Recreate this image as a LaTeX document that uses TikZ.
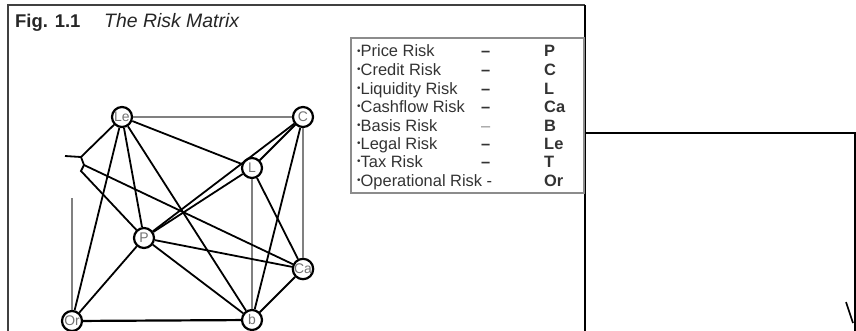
\documentclass[tikz,border=0pt]{standalone}
\usepackage{fontspec}
\setmainfont{Liberation Sans}
\begin{document}
\begin{tikzpicture}[x=1bp,y=-1bp]
\useasboundingbox (0,0) rectangle (856,330);
\tikzset{
 risk/.style={circle,draw=black,line width=2.2bp,minimum size=20bp,inner sep=0pt,fill=white,font=\fontsize{14}{14}\selectfont,text=black!55},
 link/.style={line width=1.8bp,black},
 glink/.style={line width=1.8bp,black!50},
 leg/.style={anchor=base west,inner sep=0pt,font=\fontsize{16.5}{16.5}\selectfont,text=black!80},
 legb/.style={leg,font=\fontsize{16.5}{16.5}\selectfont\bfseries},
 frameline/.style={line width=1.8bp,black!75}
}
% outer frame
\draw[frameline] (8,331) -- (8,5) -- (585,5);
\draw[line width=2bp,black] (585,5) -- (585,331);
% title
\node[anchor=base west,inner sep=0pt,font=\fontsize{18.5}{18.5}\selectfont\bfseries,text=black!85] (fig) at (15,27) {Fig. 1.1};
\node[anchor=base west,inner sep=0pt,font=\fontsize{19.5}{19.5}\selectfont\itshape,text=black!85] (ttl) at (104,27) {The Risk Matrix};
% legend box
\node[draw=black!45,line width=1.8bp,minimum width=233bp,minimum height=155bp,anchor=north west,inner sep=0pt] (legbox) at (350,37) {};
\newcommand{\bul}{{\fontsize{10}{10}\selectfont\raisebox{2.5bp}{•}}}
\foreach \n/\lab/\dsh/\ab/\yy in {1/Price Risk/–/P/56.5, 2/Credit Risk/–/C/75, 3/Liquidity Risk/–/L/94, 4/Cashflow Risk/–/Ca/112, 6/Legal Risk/–/Le/149, 7/Tax Risk/–/T/167}{
  \node[leg] (lt\n) at (357,\yy) {\bul\lab};
  \node[legb] (ld\n) at (481,\yy) {\dsh};
  \node[legb] (la\n) at (544,\yy) {\ab};
}
\node[leg] (lt5) at (357,131) {\bul Basis Risk};
\node[leg,text=black!45] (ld5) at (481,131) {–};
\node[legb] (la5) at (544,131) {B};
\node[leg] (lt8) at (357,186) {\bul Operational Risk -};
\node[legb] (la8) at (544,186) {Or};
% connector from frame
\coordinate (s) at (585,133);
\coordinate (corner) at (855,133);
\coordinate (e) at (855,331);
\coordinate (h1) at (846,302);
\coordinate (h2) at (853,323);
\draw[line width=2bp,black] (s) -- (corner) -- (e);
\draw[line width=1.6bp,black] (h1) -- (h2);
% risk nodes
\node[risk] (Le) at (122,117) {Le};
\node[risk] (C) at (303,117) {C};
\node[risk] (L) at (252,168) {L};
\node[risk] (P) at (144,238) {P};
\node[risk] (Ca) at (303,269) {Ca};
\node[risk] (b) at (252,320) {b};
\node[risk] (Or) at (72,321) {Or};
% helper coordinates
\coordinate (J) at (81,157);
\coordinate (J2) at (84,165);
\coordinate (J3) at (81,171);
\coordinate (T) at (65,156);
\coordinate (G) at (72,198);
% gray links
\draw[glink] (Le) -- (C);
\draw[glink] (C) -- (Ca);
\draw[glink] (L) -- (b);
\draw[glink] (G) -- (Or);
% black links
\draw[line width=2.2bp,black] (Or) -- (b);
\draw[link] (T) -- (J);
\draw[link] (Le) -- (J) -- (J2) -- (J3) -- (P);
\draw[link] (J2) -- (Ca);
\draw[link] (Le) -- (Or);
\draw[link] (Le) -- (P);
\draw[link] (Le) -- (b);
\draw[link] (Le) -- (L);
\draw[link] (C) -- (P);
\draw[link] (C) -- (L);
\draw[link] (C) -- (b);
\draw[link] (L) -- (P);
\draw[link] (L) -- (Ca);
\draw[link] (P) -- (Or);
\draw[link] (P) -- (b);
\draw[link] (P) -- (Ca);
\draw[link] (Ca) -- (b);
\end{tikzpicture}
\end{document}
